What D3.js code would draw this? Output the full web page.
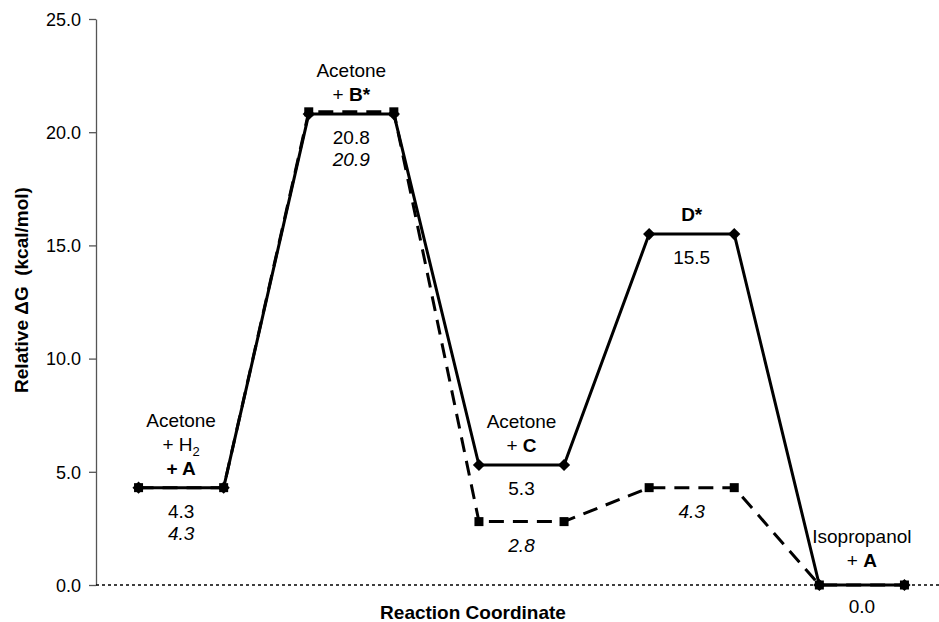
<!DOCTYPE html>
<html><head><meta charset="utf-8">
<script src="https://cdn.jsdelivr.net/npm/d3@7"></script>
<style>
body{margin:0;background:#fff;}
svg text{font-family:"Liberation Sans",Arial,sans-serif;fill:#000;}
</style></head>
<body><svg id="c" width="939" height="622"></svg>
<script>
const steps = [1,2,3,4,5,6,7,8,9,10];
const solidValues = [4.3,4.3,20.8,20.8,5.3,5.3,15.5,15.5,0.0,0.0];
const dashedValues = [4.3,4.3,20.9,20.9,2.8,2.8,4.3,4.3,0.0,0.0];
const yTicks = [0,5,10,15,20,25];
const stageCenters = [1.5,3.5,5.5,7.5,9.5];
const stageLabels = [
  [["Acetone"],["+ H",{sub:"2"}],[{b:"+ A"}]],
  [["Acetone"],["+ ",{b:"B*"}]],
  [["Acetone"],["+ ",{b:"C"}]],
  [[{b:"D*"}]],
  [["Isopropanol"],["+ ",{b:"A"}]]
];
const solidLabels = ["4.3","20.8","5.3","15.5","0.0"];
const dashedLabels = ["4.3","20.9","2.8","4.3",null];
const stageLevels = [4.3,20.8,5.3,15.5,0.0];
const dashedLevels = [4.3,20.9,2.8,4.3,0.0];

// layout (not data)
const labelLift = [0,0,0,0,5];

const svg = d3.select("#c");
const x = d3.scaleLinear().domain([0.5,10.5]).range([96,947]);
const y = d3.scaleLinear().domain([0,25]).range([585,19]);

// y axis
const ya = svg.append("g").attr("transform","translate(96,0)")
  .call(d3.axisLeft(y).tickValues(yTicks).tickFormat(d3.format(".1f")).tickSize(7).tickSizeOuter(0));
ya.select(".domain").attr("stroke","#555").attr("stroke-width",1.3);
ya.selectAll(".tick line").attr("stroke","#555").attr("stroke-width",1.3);
ya.selectAll(".tick text").attr("font-size",18).attr("x",-15).attr("dy","0.35em").attr("fill","#111");

// zero dotted line
svg.append("line").attr("x1",x(0.5)).attr("x2",939).attr("y1",y(0)).attr("y2",y(0))
  .attr("stroke","#000").attr("stroke-width",1.5).attr("stroke-dasharray","3,3");

const lineGen = (vals)=> d3.line().x((d,i)=>x(steps[i])).y(d=>y(d))(vals);

svg.append("path").attr("d",lineGen(dashedValues)).attr("fill","none")
  .attr("stroke","#000").attr("stroke-width",3).attr("stroke-dasharray","15,9");
svg.append("path").attr("d",lineGen(solidValues)).attr("fill","none")
  .attr("stroke","#000").attr("stroke-width",3);

svg.selectAll(".sq").data(dashedValues).join("rect")
  .attr("x",(d,i)=>x(steps[i])-4.5).attr("y",d=>y(d)-4.5).attr("width",9).attr("height",9).attr("fill","#000");
svg.selectAll(".dm").data(solidValues).join("path")
  .attr("d",d3.symbol(d3.symbolDiamond2,95))
  .attr("transform",(d,i)=>`translate(${x(steps[i])},${y(d)})`).attr("fill","#000");

// stage labels above
const fs = 19, lh = 24;
stageLabels.forEach((lines,k)=>{
  const cx = x(stageCenters[k]);
  const baseY = y(stageLevels[k]) - 13 - labelLift[k] - (lines.length-1)*lh;
  lines.forEach((parts,j)=>{
    const t = svg.append("text").attr("x",cx).attr("y",baseY + j*lh).attr("text-anchor","middle").attr("font-size",fs);
    parts.forEach(p=>{
      if(typeof p==="string") t.append("tspan").attr("xml:space","preserve").text(p);
      else if(p.b) t.append("tspan").attr("font-weight","bold").text(p.b);
      else if(p.sub){ t.append("tspan").attr("font-size",13).attr("dy",5).text(p.sub); }
    });
  });
});
// value labels
solidLabels.forEach((s,k)=>{
  svg.append("text").attr("x",x(stageCenters[k])).attr("y",y(stageLevels[k])+30 - (k===4?2:0))
    .attr("text-anchor","middle").attr("font-size",fs).text(s);
});
dashedLabels.forEach((s,k)=>{
  if(!s) return;
  let yy = (Math.abs(dashedLevels[k]-stageLevels[k])<0.5) ? y(stageLevels[k])+52 : y(dashedLevels[k])+30;
  svg.append("text").attr("x",x(stageCenters[k])).attr("y",yy)
    .attr("text-anchor","middle").attr("font-size",fs).attr("font-style","italic").text(s);
});

// axis titles
svg.append("text").attr("x",473).attr("y",619).attr("text-anchor","middle")
  .attr("font-size",19).attr("font-weight","bold").text("Reaction Coordinate");
svg.append("text").attr("transform","translate(28,290) rotate(-90)").attr("text-anchor","middle")
  .attr("font-size",19).attr("font-weight","bold").attr("xml:space","preserve").text("Relative ΔG  (kcal/mol)");
</script></body></html>
